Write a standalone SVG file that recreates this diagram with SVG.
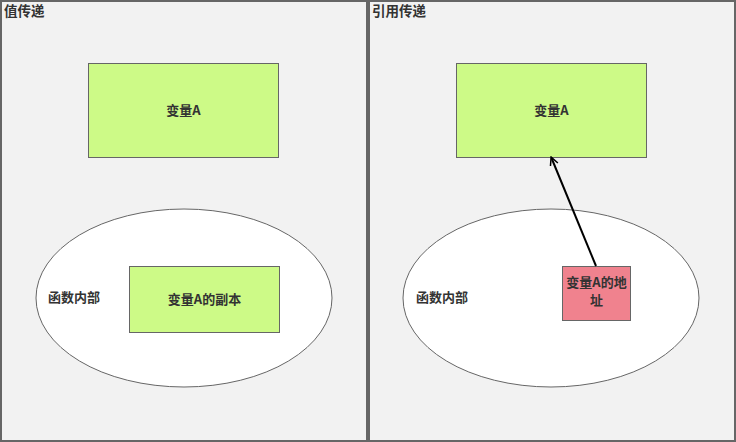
<svg xmlns="http://www.w3.org/2000/svg" width="736" height="442" viewBox="0 0 736 442">
<defs>
<style>
.panel{fill:#f2f2f2;stroke:#666666;stroke-width:2}
.box{fill:#cdfa87;stroke:#666666;stroke-width:1}
.pink{fill:#f0828e;stroke:#666666;stroke-width:1}
.ell{fill:#ffffff;stroke:#666666;stroke-width:1}
text{font-family:"Noto Sans CJK SC","Liberation Sans",sans-serif;font-size:13px;font-weight:bold;fill:#333333}
.title{font-size:13.5px}
.c{text-anchor:middle}
</style>
<marker id="arr" viewBox="0 0 10 10" refX="8" refY="5" markerWidth="10" markerHeight="10" markerUnits="userSpaceOnUse" orient="auto">
<path d="M1,1 L9,5 L1,9" fill="none" stroke="#000" stroke-width="1.5"/>
</marker>
</defs>
<g id="panel-left">
<rect class="panel" x="1" y="1" width="366" height="440"/>
<text class="title" x="4" y="16">值传递</text>
</g>
<g id="panel-right">
<rect class="panel" x="369" y="1" width="366" height="440"/>
<text class="title" x="372" y="16">引用传递</text>
</g>
<g id="left-var">
<rect class="box" x="88.5" y="63.5" width="190" height="94"/>
<text class="c" x="183.5" y="115">变量A</text>
</g>
<g id="left-func">
<ellipse class="ell" cx="184" cy="298" rx="148" ry="89"/>
<text x="48" y="302">函数内部</text>
</g>
<g id="left-copy">
<rect class="box" x="129.5" y="266.5" width="150" height="66"/>
<text class="c" x="204.5" y="304">变量A的副本</text>
</g>
<g id="right-var">
<rect class="box" x="456.5" y="63.5" width="190" height="94"/>
<text class="c" x="551.5" y="115">变量A</text>
</g>
<g id="right-func">
<ellipse class="ell" cx="551" cy="298" rx="148" ry="89"/>
<text x="416" y="302">函数内部</text>
</g>
<g id="right-addr">
<rect class="pink" x="562.5" y="266.5" width="68" height="54"/>
<text class="c" x="596.5" y="287">变量A的地</text>
<text class="c" x="596.5" y="305">址</text>
</g>
<g id="connectors">
<line x1="596" y1="266" x2="551.5" y2="158" stroke="#000" stroke-width="2" marker-end="url(#arr)"/>
</g>
</svg>
